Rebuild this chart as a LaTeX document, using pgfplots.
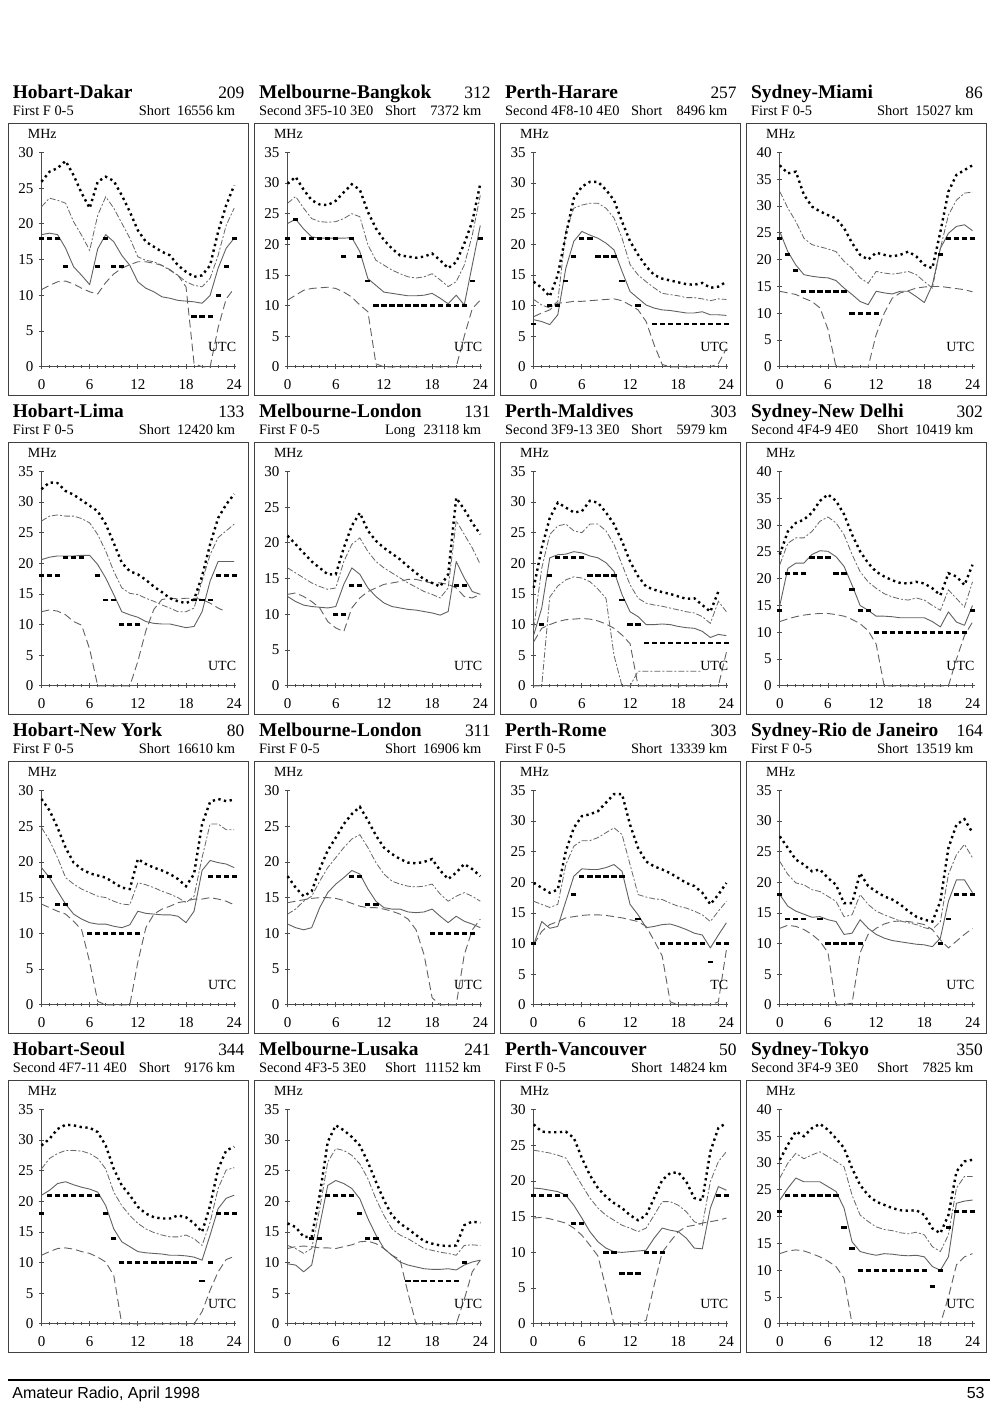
\documentclass[border=0pt]{standalone}
\usepackage{fontspec}
\setmainfont{Liberation Serif}
\newfontfamily\sansf{Liberation Sans}
\usepackage{pgfplots}
\usepackage{pgfplotstable}
\pgfplotsset{compat=1.18}

\newcommand\ftitle{\fontsize{9.7bp}{11bp}\selectfont\bfseries}
\newcommand\fnum{\fontsize{8.7bp}{10bp}\selectfont}
\newcommand\fsub{\fontsize{7.2bp}{8bp}\selectfont}
\newcommand\flab{\fontsize{7bp}{8bp}\selectfont}
\newcommand\ftick{\fontsize{7.5bp}{8bp}\selectfont}

\pgfplotsset{
 pan/.style={scale only axis, width=97.35bp, height=107.25bp, anchor=south west,
  xmin=0, xmax=24.25, ymin=0, clip=false,
  axis lines*=left, axis line style={-, draw=black!70, line width=0.4bp},
  xtick={0,6,12,18,24}, minor xtick={1,2,...,23}, ytick={0,5,...,40},
  tick align=center, major tick length=2.6bp, minor tick length=1.6bp,
  every tick/.style={black!70, line width=0.4bp},
  /pgf/number format/assume math mode=true,
  tick label style={font=\ftick},
  yticklabel style={anchor=east, inner sep=0pt, xshift=-2.6bp},
  xticklabel style={anchor=north, inner sep=0pt, yshift=-4.6bp},
 },
 dA/.style={black, line width=1.2bp, dash pattern=on 1.15bp off 1.75bp, line cap=butt},
 dB/.style={black!60, line width=0.4bp, dash pattern=on 3bp off 1bp on 1bp off 1bp},
 dC/.style={black!62, line width=0.45bp, line join=round},
 dD/.style={only marks, mark=-, mark size=1.3bp, mark options={line width=1.4bp, black, solid}},
 dE/.style={black!62, line width=0.45bp, dash pattern=on 4bp off 2bp},
}

\newcommand\extra{}
\newcommand\utc{UTC}
\newcommand\panel[9]{%
 \pgfmathsetmacro\PXo{0.5*(41.5+246.1*#1)}%
 \pgfmathsetmacro\PYo{0.5*(1408-(366.9+319*#2))}%
 \begin{axis}[pan, at={(\PXo bp,\PYo bp)}, ymax=#3]
   \addplot[dE] table[x=h,y=e]{#4};
   \addplot[dC] table[x=h,y=c]{#4};
   \addplot[dB] table[x=h,y=b]{#4};
   \extra
   \addplot[dA] table[x=h,y=a]{#4};
   \addplot[dD] table[x=h,y=d]{#4};
 \end{axis}
 \begin{scope}[shift={(\PXo bp,\PYo bp)}, x=0.5bp, y=-0.5bp]
   \draw[black!75, line width=0.45bp] (-33,-243) rectangle (207,29);
   \node[anchor=base west, inner sep=0pt, font=\ftitle] at (-29,-268) {#5};
   \node[anchor=base east, inner sep=0pt, font=\fnum] at (203.3,-268) {#6};
   \node[anchor=base west, inner sep=0pt, font=\fsub] at (-29,-251) {#7};
   \node[anchor=base west, inner sep=0pt, font=\fsub] at (97,-251) {#8};
   \node[anchor=base east, inner sep=0pt, font=\fsub] at (194,-251) {#9};
   \node[anchor=base west, inner sep=0pt, font=\flab] at (-14,-228.5) {MHz};
   \node[anchor=base east, inner sep=0pt, font=\flab] at (195,-15) {\utc};
 \end{scope}}

% columns: h = UTC hour, a = dotted, b = dash-dot, c = solid, d = thick dashes, e = long dash
\pgfplotstableread{
h a b c d e
0 25.9 22.4 18.5 18 10.8
1 27.3 23.6 18.7 18 11.4
2 27.8 23.3 18.5 18 11.9
3 28.8 22.9 16.6 14 12
4 26.8 20.3 14 nan 11.6
5 24.3 18.4 12.8 nan 11
6 22.2 16.3 11.5 nan 10.5
7 25.9 21.2 16.5 14 10.2
8 26.6 23.8 18.5 18 11.8
9 26 22.2 17.5 14 13
10 24 20.1 15.6 14 13.8
11 21.7 18 14.2 nan 14.3
12 19.1 15.4 11.9 nan 14.7
13 17.5 14.9 11 nan 14.7
14 16.8 14.7 10.5 nan 14.5
15 16.1 14.2 9.8 nan 14.2
16 15.6 13.5 9.6 nan 13.6
17 14.2 12.8 9.3 nan 12.8
18 13.3 11.9 9.2 nan 11.2
19 12.6 11.4 9.1 7 0.5
20 12.8 11.2 8.9 7 0
21 14.2 12.4 10 7 0
22 18.9 15.6 13.8 10 5.5
23 22.6 19.8 16.6 14 9.5
24 25.4 22.2 18 18 11
}\TabA
\pgfplotstableread{
h a b c d e
0 29.9 26.7 23.4 21 10.9
1 31 27.8 24.1 24 11.7
2 28.9 25.9 22.5 21 12.5
3 27.2 24.2 21.2 21 12.8
4 26.5 23.7 21 21 12.9
5 26.4 23.6 21 21 13
6 27.1 23.7 21 21 12.8
7 28.5 24.2 21 18 12.2
8 29.8 25 21.1 21 11.4
9 28.9 24.5 18.8 18 10.1
10 25.3 19.9 14.4 14 9
11 22.6 17.4 13.3 10 0.5
12 20.7 16.6 12.2 10 0
13 19.3 15.8 12 10 0
14 18.2 15.2 11.8 10 0
15 18 14.7 11.6 10 0
16 17.8 14.5 11.6 10 0
17 18 14.7 11.7 10 0
18 18.5 15.2 12 10 0
19 17.4 14.2 11.2 10 0
20 16.1 13.1 10.3 10 0
21 17.1 13.9 11.7 10 0
22 20.1 16.6 10.1 10 5
23 23.7 21.5 16.6 14 9.5
24 29.9 28 23.1 21 10.9
}\TabB
\pgfplotstableread{
h a b c d e
0 13.9 11 7.7 7 8.2
1 12.9 10.1 7.4 nan 8.8
2 11.5 9.6 6.9 10 9.3
3 15 10.7 8.5 10 10.4
4 21.5 22.1 16.1 14 10.5
5 27.5 25.9 20.5 18 10.7
6 29.4 26.4 22.1 21 10.7
7 30.2 26.7 21.5 21 10.8
8 30.2 26.7 21 18 10.9
9 28.9 25.9 20.2 18 11
10 27.2 24.3 19.1 18 11.1
11 23.7 21 15.6 14 10.8
12 20.5 16.7 12.3 nan 10.1
13 18.3 15 11.2 10 9.3
14 16.4 13.9 10.1 nan 7.4
15 15 12.9 9.6 7 3.6
16 14.4 12 9.3 7 0.4
17 14.1 11.8 9.2 7 0
18 13.8 11.6 9 7 0
19 13.5 11.3 8.8 7 0
20 13.4 11.3 8.8 7 0
21 13.7 11.1 9 7 0
22 12.9 10.8 8.5 7 0
23 13.1 11.1 8.5 7 0.5
24 13.9 11 8.4 7 3
}\TabC
\pgfplotstableread{
h a b c d e
0 37.6 32.7 25.2 24 14.1
1 36.1 29.6 21.5 21 13.8
2 36.4 27.1 19 18 13.5
3 32.1 24 17.2 14 12.8
4 29.9 22.8 16.9 14 12.2
5 29 22.4 16.7 14 11
6 28.3 22 16.6 14 7
7 27.7 21.5 16.1 14 0
8 25.9 19.7 14.7 14 0
9 23.1 18.4 13.5 10 0
10 20.9 16.6 12.2 10 0
11 20 15.6 11.6 10 0
12 21.3 17.8 14.1 10 6
13 20.9 17.5 13.8 nan 10
14 20.6 17.3 13.6 nan 12.8
15 20.9 17.5 14.1 nan 13.8
16 21.5 17.8 14.1 nan 14.2
17 20.6 17.2 13.1 nan 14.7
18 19 15.9 12 nan 14.9
19 18.4 14.7 15.3 nan 15
20 25.2 22.1 22.1 21 15
21 32.7 28.3 24.9 24 14.8
22 35.8 31.1 26.2 24 14.6
23 36.7 32.4 26.5 24 14.4
24 37.6 32.6 25.4 24 14
}\TabD
\pgfplotstableread{
h a b c d e
0 32.1 26.9 20.6 18 12.1
1 33.2 27.7 21 18 12.4
2 33.1 27.9 21.2 18 12.2
3 31.8 27.7 21.2 21 11.6
4 31.2 27.7 21.2 21 10.5
5 30.3 27.3 21.3 21 9.9
6 29.4 26.6 21.3 nan 6
7 28.5 24.7 19.8 18 0
8 26.4 22 17.6 14 0
9 23.3 18.7 14.9 14 0
10 20.1 16 12.1 10 0
11 18.7 15.1 11.6 10 0
12 18.2 14.9 11.2 10 4
13 17.3 14.3 10.5 nan 9
14 16.2 13.8 10.2 nan 12.5
15 15.3 13.2 10.1 nan 14.1
16 14.3 12.7 10.1 nan 14.3
17 13.8 12.1 9.8 nan 14.2
18 13.5 12.1 9.5 nan 14.3
19 14.1 12.7 9.7 14 14.3
20 17.9 17.1 12.1 14 14.1
21 23.1 21.4 17.1 14 13.5
22 27.4 24.2 20.3 18 12.7
23 29.6 25.3 20.3 18 12.1
24 31.3 26.4 20.3 18 nan
}\TabE
\pgfplotstableread{
h a b c d e
0 21 16.5 12.5 nan 12.8
1 19.8 15.8 11.8 nan 13
2 18.6 15.1 11.3 nan 12.5
3 17.4 14.4 11.1 nan 11.8
4 16.5 13.9 11 nan 10.9
5 15.6 13.5 10.9 nan 9
6 15.6 13.7 11.1 10 8.1
7 19.3 17.4 14.2 10 7.6
8 22.4 19.8 16.5 14 10.9
9 24.2 20.7 15.6 14 12.3
10 21.7 18.8 13.7 nan 13.2
11 20.3 17.4 12.5 nan 13.7
12 19.3 16.5 11.6 nan 14.2
13 18.5 15.8 11.1 nan 14.4
14 17.7 15.1 10.9 nan 14.6
15 16.7 14.4 10.7 nan 14.9
16 15.8 13.8 10.6 nan 14.9
17 14.9 13.2 10.4 nan 14.6
18 14.4 12.8 10.2 nan 14.4
19 13.9 12.3 9.9 nan 14.4
20 15.6 13.7 10.4 nan 14.2
21 26.3 23.1 17.4 14 13.7
22 24.7 21.2 15.1 14 12.5
23 22.8 19.3 13.2 nan 12.3
24 21.2 17 12.8 nan 12.8
}\TabF
\pgfplotstableread{
h a b c d e f
0 16 9.4 8.3 nan 7.2 0
1 22.5 19.2 12.7 10 9.4 0
2 27.4 24.7 20.9 18 10 14.5
3 29.9 26.1 21.4 21 10.5 16.3
4 29.1 26.4 21.5 21 10.8 17.3
5 28.3 25.3 21.9 21 10.9 17.8
6 28.5 25 21.7 21 11 17.6
7 30.2 26.4 21.2 18 10.9 17
8 29.9 26.4 20.9 18 10.6 15.8
9 28.3 25.3 20.1 18 10.1 14.3
10 26.4 23.1 18.7 18 9.4 5
11 23.6 19.8 14.9 14 8.3 0
12 20.3 16.5 12.1 10 6.9 0
13 17.9 14.3 11.3 10 0 2.4
14 16.2 13.5 10 7 0 2.4
15 15.7 13.2 10 7 0 2.4
16 15.3 13 10.1 7 0 2.4
17 15 12.7 10 7 0 2.4
18 14.6 12.4 9.7 7 0 2.4
19 14.2 12.1 9.5 7 0 2.4
20 14.3 11.9 9.4 7 0 2.4
21 13.2 11.3 8.9 7 0 2.4
22 12.1 10.2 7.9 7 0 nan
23 15.4 13.8 8.4 7 0 nan
24 nan 12.1 8.2 7 5.5 nan
}\TabG
\pgfplotstableread{
h a b c d e
0 24.5 22.6 15 14 12
1 28.8 26.6 21.9 21 12.5
2 30.4 27.6 22.9 21 12.9
3 31 27.6 22.9 21 13.2
4 32.3 28.8 24.5 24 13.4
5 34.5 30.7 25.2 24 13.5
6 35.7 31.5 25.1 24 13.5
7 34.5 30.4 24.1 21 13.3
8 32 28.2 22.3 21 13
9 28.2 24.5 18.8 18 12.4
10 25.1 21.3 15 14 11.6
11 22.9 19.4 14.1 14 10.3
12 21.3 18.2 13 10 7.8
13 20.4 17.2 13 10 0
14 19.7 16.6 12.9 10 0
15 19.2 16.2 12.7 10 0
16 19.1 16 12.7 10 0
17 19.4 16.4 12.7 10 0
18 19.1 16 12.7 10 0
19 18.2 15 12 10 0
20 16.9 14.1 11 10 0
21 21 17.9 13.8 10 0
22 20.4 16.3 11.9 10 5
23 18.8 14.7 11.3 10 9.4
24 22.6 19.4 15 14 11.9
}\TabH
\pgfplotstableread{
h a b c d e
0 28.8 24.8 19.2 18 14.1
1 27.2 23 17.8 18 13.6
2 24.8 20.6 15.9 14 13.1
3 22 17.8 14.1 14 12.7
4 19.9 16.9 12.7 nan 11.7
5 19 16.2 12 nan 10.5
6 18.4 15.7 11.5 10 6
7 18.1 15.2 11.3 10 0.5
8 17.8 15 11.3 10 0
9 17.1 14.5 11 10 0
10 16.4 14.1 10.8 10 0
11 16.2 14 11.2 10 0
12 20.4 17.1 13.1 10 6
13 19.7 16.8 12.8 nan 10.8
14 19.2 16.4 12.7 nan 12.7
15 18.8 15.9 12.6 nan 13.4
16 18.3 15.5 12.6 nan 13.8
17 17.6 15 12.4 nan 14.3
18 16.6 14.3 11.5 nan 14.5
19 18.3 15.2 13.1 nan 14.8
20 25.3 20.6 18.8 nan 14.8
21 28.4 25.3 20.2 18 15
22 28.8 25.3 19.9 18 14.8
23 28.5 24.5 19.7 18 14.5
24 28.7 24.5 19.2 18 14
}\TabI
\pgfplotstableread{
h a b c d e
0 18 12.7 11.3 nan 14.3
1 16.4 13.4 10.8 nan 14.5
2 15.2 14.5 10.5 nan 14.7
3 15.9 15.2 10.8 nan 14.9
4 19 17.3 13.6 nan 15
5 21.6 19.2 15.7 nan 15
6 23.4 20.6 16.9 nan 14.9
7 25.3 22 17.8 nan 14.6
8 26.7 23.2 18.8 18 14.2
9 27.7 23.8 18.3 18 13.8
10 25.8 22 16.2 14 13.6
11 23.7 19.9 14.5 14 13.6
12 22 18.3 13.6 nan 13.4
13 21.1 17.3 13.4 nan 13.1
14 20.4 16.9 13.4 nan 12.7
15 19.9 16.6 13 nan 12
16 19.8 16.5 12.9 nan 10.5
17 20 16.6 13 nan 7
18 20.4 16.9 13.4 10 1
19 18.8 15.5 12.4 10 0
20 17.6 14.5 11.5 10 0
21 18.5 15.2 12.4 10 0
22 19.7 15.7 11.7 10 7
23 19 15.2 11.3 10 10.5
24 18 14.5 10.8 nan 12
}\TabJ
\pgfplotstableread{
h a b c d e
0 19.9 16.9 9.8 10 9.8
1 19.1 16.4 13.6 nan 12
2 18.3 15.9 12.5 nan 13.1
3 18.8 16.4 12.8 nan 13.6
4 25.1 22.9 16.9 nan 14.2
5 28.9 25.9 21 18 14.4
6 30.8 26.8 22.2 21 14.6
7 31.1 26.8 22.1 21 14.7
8 31.6 27.3 22.1 21 14.7
9 33 28.1 22.4 21 14.6
10 34.4 28.9 22.9 21 14.4
11 34.4 27.8 21.8 21 14.2
12 29.4 22.9 16.4 nan 13.9
13 25.6 18 14.7 14 13.6
14 23.4 17.6 12.6 nan 12.8
15 22.6 17.3 12.8 nan 10.5
16 22.1 17.2 13.1 10 8
17 21.5 16.6 13.2 10 0.5
18 20.7 16.1 12.8 10 0
19 19.9 15.8 12.3 10 0
20 19.4 15.3 11.7 10 0
21 18.3 14.7 11.4 10 0
22 16.4 13.6 9.3 7 0
23 18 15.3 11.4 10 0.5
24 19.9 16.9 13.4 10 9
}\TabK
\pgfplotstableread{
h a b c d e
0 27.5 23.4 18 18 12.5
1 25.6 21.3 16.1 14 13
2 23.7 19.9 15.3 14 12.8
3 22.9 19.6 14.8 14 12.3
4 21.8 18.8 14.3 nan 11.5
5 22.1 18.5 14.4 14 10.4
6 20.7 17.7 13.9 10 8.5
7 19.6 16.9 13.6 10 0
8 16.6 14.4 11.5 10 0
9 16.6 14.7 11.7 10 0.3
10 21.5 18 13.9 10 8.5
11 19.4 16.4 12.5 nan 11.5
12 18.5 15.3 11.5 nan 12.5
13 17.7 14.7 10.9 nan 13.2
14 17.2 14.2 10.5 nan 13.6
15 16.4 13.7 10.3 nan 13.7
16 15.3 13.4 10.1 nan 13.6
17 14.4 13.1 9.9 nan 13.4
18 13.9 12.6 9.8 nan 13.1
19 13.6 12.3 9.5 nan 12.3
20 16.9 13.6 10.9 10 10.6
21 25.6 21.3 16.9 14 9.3
22 29.4 24.5 20.4 18 10.4
23 30.3 26.2 20.4 18 11.5
24 28.1 24 18.3 18 12.5
}\TabL
\pgfplotstableread{
h a b c d e
0 29.1 25.3 21 18 11.2
1 30.2 27 21.8 21 11.8
2 31.8 27.8 22.9 21 12.3
3 32.5 28.3 23.2 21 12.4
4 32.4 28.3 22.7 21 12.2
5 32.1 28.2 22.3 21 11.8
6 32 27.8 22 21 11.5
7 31.3 27 21.5 21 10.9
8 29.1 25.3 19.3 18 10.1
9 25.3 21.5 15.5 14 7.9
10 22.6 19.3 13.4 10 0
11 21 17.7 12.6 10 0
12 19.1 16.4 11.8 10 0
13 18 15.5 11.6 10 0
14 17.4 14.9 11.5 10 0
15 17.2 14.5 11.4 10 0
16 17.2 14.2 11.2 10 0
17 17.7 14.2 11.2 10 0
18 17.4 14.5 11.1 10 0
19 16.4 13.9 10.9 10 0
20 15 12.8 10.4 7 2
21 19.3 16.6 14.5 10 5.5
22 25.3 22.1 18.8 18 8.5
23 28.3 25.1 20.5 18 10.5
24 28.9 25.5 21 18 11
}\TabM
\pgfplotstableread{
h a b c d e
0 16.4 12.8 9.8 nan 12.3
1 15.8 12.3 9.6 nan 12.6
2 14.2 11.5 8.5 nan 12.7
3 14.2 12.3 9.6 14 12.6
4 21 18.8 16.1 14 12.4
5 29.7 26.4 22.6 21 12.4
6 32.4 28.6 23.4 21 12.3
7 31.6 28.3 22.9 21 12.6
8 30.5 27.5 22.1 21 12.9
9 29.1 26.1 20.4 18 13.4
10 26.4 23.7 17.2 14 13.5
11 23.2 20.4 14.5 14 13.1
12 20.2 17.7 12.3 nan 12.3
13 17.7 15.5 11.2 nan 11.2
14 16.4 14.5 10.1 nan 10.5
15 15.5 13.9 9.6 7 5
16 14.5 13.1 9.3 7 0
17 13.5 12.3 9 7 0
18 13.1 12 8.9 7 0
19 12.8 11.7 8.9 7 0
20 12.7 11.5 9 7 0
21 12.8 11.2 8.8 7 0
22 16.1 12.8 9.6 10 4
23 16.7 12.9 10.1 nan 8.5
24 16.5 12.8 10.4 nan 10.4
}\TabN
\pgfplotstableread{
h a b c d e
0 27.9 24.3 19 18 14.8
1 26.9 24.1 18.9 18 14.9
2 26.8 23.9 18.7 18 14.7
3 26.8 23.6 18.5 18 14.4
4 26.9 23.2 18 18 14.1
5 26 21.3 16.6 14 13.4
6 23.2 19.4 14.8 14 12.4
7 20.8 17.6 12.9 nan 11
8 19 16.2 11.5 nan 9.5
9 17.8 15.2 10.6 10 5
10 16.9 14.5 10.1 10 0
11 16.2 13.8 10 7 0
12 15.2 13.4 10.1 7 0
13 14.5 12.9 10.2 7 0
14 15.2 13.4 10.3 10 0.5
15 17.6 15.2 12 10 5.4
16 20.1 17.1 13.4 10 10
17 21.1 17.1 13.1 nan 11.5
18 21.2 16.6 12.9 nan 12.9
19 19.9 15.7 12 nan 13.6
20 17.6 14.3 10.6 nan 13.8
21 17.3 13.8 10.5 nan 14.1
22 24.1 19.9 16.2 nan 14.3
23 27.4 22.7 19.2 18 14.5
24 28.1 24.1 18.7 18 14.8
}\TabO
\pgfplotstableread{
h a b c d e
0 30.6 27.2 23.1 21 13.1
1 33.4 30 25.3 24 13.6
2 35.9 31.8 27.2 24 13.8
3 35 30.8 26.5 24 13.6
4 36.5 31.5 26.5 24 13.1
5 37.3 32.1 26.5 24 12.5
6 36.2 31.2 25.6 24 11.7
7 34.6 30.3 24.7 24 10.7
8 32.8 29.3 21.6 18 8.5
9 29 24 15.3 14 0
10 25.9 20.3 13.5 10 0
11 24 19.1 13.1 10 0
12 22.8 18.1 12.8 10 0
13 22.2 17.6 13.1 10 0
14 21.6 17.4 13 10 0
15 21.2 17 12.8 10 0
16 21.1 16.8 12.7 10 0
17 21.2 17.1 12.8 10 0
18 20.3 16.6 12.5 10 0
19 17.8 14.4 10.7 7 0
20 16.9 13.5 10 10 0
21 20.3 16.6 12.5 18 5
22 28.4 25.3 22.5 21 11
23 30.3 27.5 22.9 21 12.5
24 30.6 27.5 23.1 21 13.1
}\TabP

\begin{document}
\begin{tikzpicture}
\useasboundingbox (0,0) rectangle (500bp,704bp);
\fill[white] (0,0) rectangle (500bp,704bp);

\panel{0}{0}{30}{\TabA}{Hobart-Dakar}{209}{First F 0-5}{Short}{16556 km}
\panel{1}{0}{35}{\TabB}{Melbourne-Bangkok}{312}{Second 3F5-10 3E0}{Short}{7372 km}
\panel{2}{0}{35}{\TabC}{Perth-Harare}{257}{Second 4F8-10 4E0}{Short}{8496 km}
\panel{3}{0}{40}{\TabD}{Sydney-Miami}{86}{First F 0-5}{Short}{15027 km}

\panel{0}{1}{35}{\TabE}{Hobart-Lima}{133}{First F 0-5}{Short}{12420 km}
\panel{1}{1}{30}{\TabF}{Melbourne-London}{131}{First F 0-5}{Long}{23118 km}
\renewcommand\extra{\addplot[dB] table[x=h,y=f]{\TabG};}
\panel{2}{1}{35}{\TabG}{Perth-Maldives}{303}{Second 3F9-13 3E0}{Short}{5979 km}
\renewcommand\extra{}
\panel{3}{1}{40}{\TabH}{Sydney-New Delhi}{302}{Second 4F4-9 4E0}{Short}{10419 km}

\panel{0}{2}{30}{\TabI}{Hobart-New York}{80}{First F 0-5}{Short}{16610 km}
\panel{1}{2}{30}{\TabJ}{Melbourne-London}{311}{First F 0-5}{Short}{16906 km}
\renewcommand\utc{TC}
\panel{2}{2}{35}{\TabK}{Perth-Rome}{303}{First F 0-5}{Short}{13339 km}
\renewcommand\utc{UTC}
\panel{3}{2}{35}{\TabL}{Sydney-Rio de Janeiro}{164}{First F 0-5}{Short}{13519 km}

\panel{0}{3}{35}{\TabM}{Hobart-Seoul}{344}{Second 4F7-11 4E0}{Short}{9176 km}
\panel{1}{3}{35}{\TabN}{Melbourne-Lusaka}{241}{Second 4F3-5 3E0}{Short}{11152 km}
\panel{2}{3}{30}{\TabO}{Perth-Vancouver}{50}{First F 0-5}{Short}{14824 km}
\panel{3}{3}{40}{\TabP}{Sydney-Tokyo}{350}{Second 3F4-9 3E0}{Short}{7825 km}

\begin{scope}[x=0.5bp, y=-0.5bp, shift={(0,-1408)}]
  \draw[black, line width=0.8bp] (8,1380) -- (990,1380);
  \node[anchor=base west, inner sep=0pt, font=\sansf\fontsize{8bp}{9bp}\selectfont] at (12,1398) {Amateur Radio, April 1998};
  \node[anchor=base east, inner sep=0pt, font=\sansf\fontsize{8bp}{9bp}\selectfont] at (985,1398) {53};
\end{scope}
\end{tikzpicture}
\end{document}
